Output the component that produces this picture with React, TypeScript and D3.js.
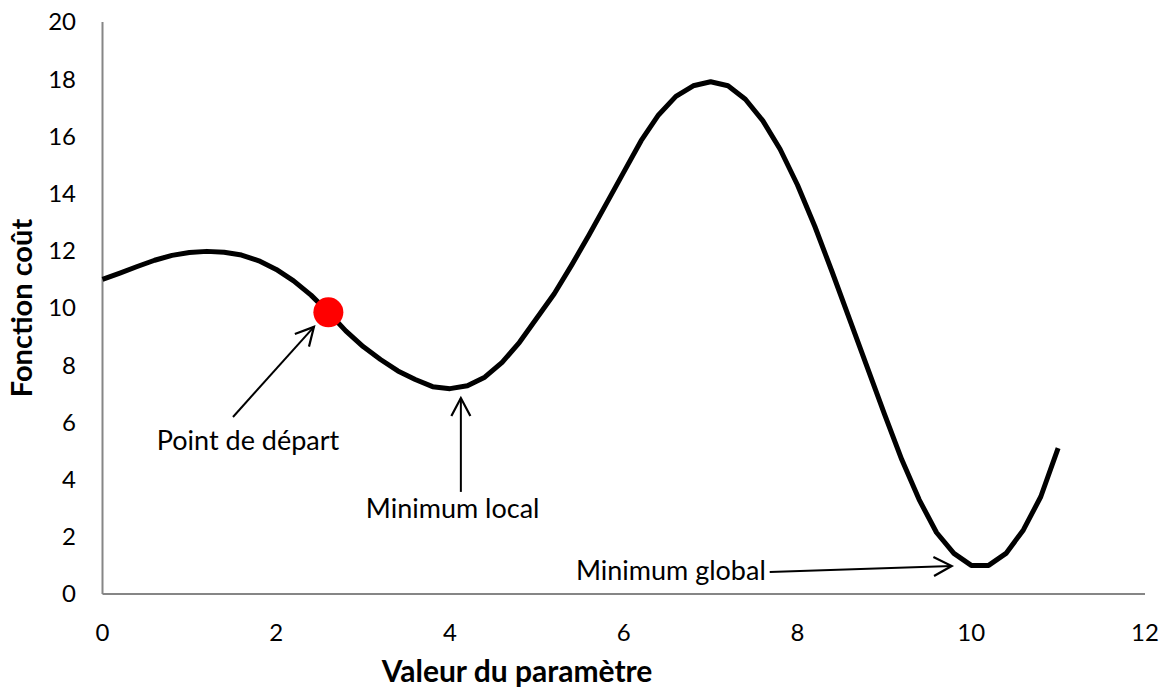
import React from "react";
import * as d3 from "d3";

// ---- data ----
const paramValues = [
  0, 0.2, 0.4, 0.6, 0.8, 1.0, 1.2, 1.4, 1.6, 1.8,
  2.0, 2.2, 2.4, 2.6, 2.8, 3.0, 3.2, 3.4, 3.6, 3.8,
  4.0, 4.2, 4.4, 4.6, 4.8, 5.0, 5.2, 5.4, 5.6, 5.8,
  6.0, 6.2, 6.4, 6.6, 6.8, 7.0, 7.2, 7.4, 7.6, 7.8,
  8.0, 8.2, 8.4, 8.6, 8.8, 9.0, 9.2, 9.4, 9.6, 9.8,
  10.0, 10.2, 10.4, 10.6, 10.8, 11.0,
];
const costValues = [
  11.0, 11.22, 11.45, 11.67, 11.84, 11.94, 11.98, 11.95, 11.85, 11.65,
  11.35, 10.95, 10.45, 9.85, 9.2, 8.65, 8.2, 7.8, 7.5, 7.25,
  7.18, 7.28, 7.58, 8.1, 8.8, 9.65, 10.5, 11.5, 12.55, 13.65,
  14.75, 15.85, 16.75, 17.4, 17.77, 17.91, 17.77, 17.3, 16.55, 15.55,
  14.3, 12.85, 11.25, 9.6, 7.95, 6.3, 4.7, 3.3, 2.15, 1.42,
  1.0, 1.0, 1.42, 2.24, 3.4, 5.1,
];
const startX = [2.6];
const startY = [9.85];

const xTicks = [0, 2, 4, 6, 8, 10, 12];
const yTicks = [0, 2, 4, 6, 8, 10, 12, 14, 16, 18, 20];

const xTitle = "Valeur du paramètre";
const yTitle = "Fonction coût";

// annotations in data coordinates: [x1, y1, x2, y2]
const annotLabels = ["Point de départ", "Minimum local", "Minimum global"];
const annotArrows = [
  [1.502, 6.19, 2.434, 9.34],
  [4.125, 3.57, 4.125, 6.85],
  [7.68, 0.77, 9.775, 0.98],
];
const annotText = [
  [1.675, 5.03],
  [4.03, 2.66],
  [7.635, 0.49],
];
const annotAnchor = ["middle", "middle", "end"];

const FONT = "Lato, 'Open Sans', sans-serif";

export default function App() {
  const W = 1168;
  const H = 691;
  const x = d3.scaleLinear().domain([0, 12]).range([102.5, 1145]);
  const y = d3.scaleLinear().domain([0, 20]).range([594, 22]);

  const pts: [number, number][] = paramValues.map((v, i) => [v, costValues[i]]);
  const line = d3
    .line<[number, number]>()
    .x((d) => x(d[0]))
    .y((d) => y(d[1]))
    .curve(d3.curveLinear);

  return (
    <svg
      width={W}
      height={H}
      style={{ position: "absolute", left: 0, top: 0, background: "#fff" }}
      fontFamily={FONT}
    >
      <defs>
        <marker
          id="openArrow"
          viewBox="-22 -13 26 26"
          refX={0}
          refY={0}
          markerWidth={26}
          markerHeight={26}
          markerUnits="userSpaceOnUse"
          orient="auto"
        >
          <path d="M -18 -9.5 L 0 0 L -18 9.5" fill="none" stroke="#000" strokeWidth={2.2} />
        </marker>
      </defs>
      <rect x={0} y={0} width={W} height={H} fill="#fff" />

      {/* axes */}
      <line x1={x(0)} x2={x(0)} y1={y(20)} y2={y(0)} stroke="#868686" strokeWidth={2} />
      <line x1={x(0)} x2={x(12)} y1={y(0)} y2={y(0)} stroke="#868686" strokeWidth={2} />

      {xTicks.map((t) => (
        <text key={"x" + t} x={x(t)} y={641} textAnchor="middle" fontSize={24} fill="#000">
          {t}
        </text>
      ))}
      {yTicks.map((t) => (
        <text key={"y" + t} x={76} y={y(t)} dy="0.35em" textAnchor="end" fontSize={24} fill="#000">
          {t}
        </text>
      ))}

      <text x={517} y={682} textAnchor="middle" fontSize={30} fontWeight="bold" fill="#000">
        {xTitle}
      </text>
      <text
        transform={`translate(32, ${(y(0) + y(20)) / 2}) rotate(-90)`}
        textAnchor="middle"
        fontSize={29}
        fontWeight="bold"
        fill="#000"
      >
        {yTitle}
      </text>

      {/* curve */}
      <path
        d={line(pts) || ""}
        fill="none"
        stroke="#000"
        strokeWidth={5}
        strokeLinejoin="round"
        strokeLinecap="butt"
      />

      {/* starting point */}
      {startX.map((sx, i) => (
        <circle key={"s" + i} cx={x(sx)} cy={y(startY[i])} r={15} fill="#ff0000" />
      ))}

      {/* annotations */}
      {annotArrows.map((a, i) => (
        <line
          key={"a" + i}
          x1={x(a[0])}
          y1={y(a[1])}
          x2={x(a[2])}
          y2={y(a[3])}
          stroke="#000"
          strokeWidth={2}
          markerEnd="url(#openArrow)"
        />
      ))}
      {annotLabels.map((l, i) => (
        <text
          key={"l" + i}
          x={x(annotText[i][0])}
          y={y(annotText[i][1])}
          textAnchor={annotAnchor[i] as any}
          fontSize={27}
          fill="#000"
        >
          {l}
        </text>
      ))}
    </svg>
  );
}
